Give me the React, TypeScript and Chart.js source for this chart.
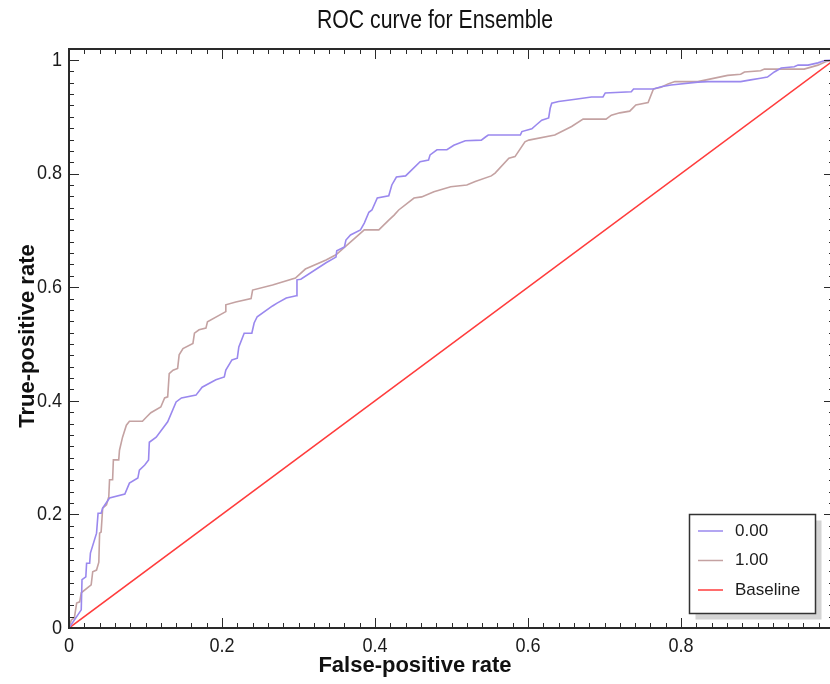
import { useEffect, useRef } from "react";
import { Chart, registerables } from "chart.js";

Chart.register(...registerables);

const chartTitle = "ROC curve for Ensemble";
const xAxisTitle = "False-positive rate";
const yAxisTitle = "True-positive rate";
const seriesLabels = ["0.00", "1.00", "Baseline"];
const seriesColors = ["#9a88ee", "#c4a2a2", "#ff3c3c"];

const xTickValues = [0, 0.2, 0.4, 0.6, 0.8];
const xTickLabels = ["0", "0.2", "0.4", "0.6", "0.8"];
const yTickValues = [0, 0.2, 0.4, 0.6, 0.8, 1];
const yTickLabels = ["0", "0.2", "0.4", "0.6", "0.8", "1"];

const fpr0 = [
  0, 0.016, 0.017, 0.022, 0.023, 0.027, 0.028, 0.036, 0.038, 0.042, 0.044, 0.053, 0.073, 0.079, 0.09,
  0.092, 0.099, 0.104, 0.105, 0.114, 0.129, 0.14, 0.147, 0.166, 0.174, 0.192, 0.203, 0.205, 0.213, 0.22,
  0.222, 0.229, 0.239, 0.242, 0.246, 0.266, 0.272, 0.284, 0.297, 0.298, 0.303, 0.336, 0.349, 0.35, 0.36,
  0.362, 0.368, 0.381, 0.386, 0.392, 0.396, 0.403, 0.418, 0.422, 0.428, 0.44, 0.459, 0.47, 0.472, 0.481,
  0.494, 0.503, 0.518, 0.539, 0.544, 0.548, 0.59, 0.592, 0.605, 0.611, 0.618, 0.627, 0.629, 0.631, 0.64,
  0.662, 0.683, 0.698, 0.701, 0.735, 0.738, 0.764, 0.774, 0.787, 0.822, 0.835, 0.878, 0.891, 0.904, 0.913,
  0.922, 0.931, 0.948, 0.953, 0.966, 0.979, 0.988, 1,
];
const tpr0 = [
  0, 0.032, 0.085, 0.09, 0.114, 0.114, 0.132, 0.167, 0.202, 0.202, 0.211, 0.229, 0.236, 0.255, 0.264,
  0.278, 0.287, 0.296, 0.327, 0.336, 0.363, 0.398, 0.405, 0.41, 0.424, 0.437, 0.442, 0.454, 0.472, 0.475,
  0.495, 0.519, 0.519, 0.537, 0.548, 0.567, 0.572, 0.581, 0.585, 0.613, 0.614, 0.643, 0.653, 0.664, 0.671,
  0.683, 0.692, 0.701, 0.713, 0.732, 0.736, 0.757, 0.761, 0.78, 0.794, 0.796, 0.821, 0.824, 0.833, 0.842,
  0.842, 0.85, 0.858, 0.859, 0.864, 0.868, 0.868, 0.874, 0.879, 0.886, 0.894, 0.898, 0.915, 0.924, 0.927,
  0.931, 0.935, 0.935, 0.942, 0.944, 0.949, 0.949, 0.953, 0.956, 0.961, 0.962, 0.962, 0.965, 0.968, 0.97,
  0.979, 0.986, 0.988, 0.991, 0.991, 0.995, 0.999, 1,
];

const fpr1 = [
  0, 0.003, 0.007, 0.01, 0.014, 0.016, 0.029, 0.031, 0.036, 0.039, 0.04, 0.042, 0.044, 0.049, 0.052,
  0.053, 0.057, 0.058, 0.065, 0.066, 0.07, 0.075, 0.079, 0.096, 0.101, 0.107, 0.12, 0.125, 0.129, 0.131,
  0.136, 0.142, 0.144, 0.149, 0.162, 0.164, 0.17, 0.179, 0.181, 0.205, 0.205, 0.218, 0.238, 0.24, 0.266,
  0.296, 0.309, 0.336, 0.349, 0.386, 0.405, 0.418, 0.425, 0.431, 0.451, 0.461, 0.477, 0.499, 0.52, 0.531,
  0.552, 0.557, 0.575, 0.583, 0.596, 0.601, 0.635, 0.657, 0.672, 0.702, 0.709, 0.72, 0.733, 0.741, 0.757,
  0.764, 0.774, 0.783, 0.792, 0.822, 0.861, 0.878, 0.883, 0.904, 0.909, 0.961, 0.979, 0.989, 1,
];
const tpr1 = [
  0, 0.014, 0.018, 0.044, 0.046, 0.062, 0.076, 0.099, 0.102, 0.116, 0.167, 0.169, 0.211, 0.217, 0.231,
  0.261, 0.261, 0.296, 0.296, 0.313, 0.336, 0.357, 0.364, 0.364, 0.371, 0.379, 0.389, 0.405, 0.407, 0.448,
  0.454, 0.457, 0.481, 0.492, 0.501, 0.519, 0.525, 0.528, 0.539, 0.557, 0.569, 0.574, 0.58, 0.595, 0.604,
  0.616, 0.632, 0.648, 0.657, 0.701, 0.701, 0.718, 0.727, 0.736, 0.757, 0.759, 0.768, 0.777, 0.78, 0.786,
  0.796, 0.801, 0.827, 0.83, 0.856, 0.859, 0.868, 0.883, 0.896, 0.896, 0.903, 0.907, 0.91, 0.921, 0.925,
  0.949, 0.952, 0.958, 0.962, 0.962, 0.973, 0.975, 0.979, 0.981, 0.984, 0.984, 0.991, 0.997, 1,
];

const baselineX = [0, 1];
const baselineY = [0, 1];

const FONT = '"Liberation Sans", Arial, sans-serif';

const toPoints = (xs: number[], ys: number[]) => xs.map((x, i) => ({ x, y: ys[i] }));

function narrowText(ctx: CanvasRenderingContext2D, text: string, x: number, y: number, sx: number) {
  ctx.save();
  ctx.translate(x, y);
  ctx.scale(sx, 1);
  ctx.fillText(text, 0, 0);
  ctx.restore();
}

const decorPlugin = {
  id: "rocDecor",
  afterDatasetsDraw(chart: any) {
    const { ctx, chartArea: a, scales } = chart;
    const x = scales.x;
    const y = scales.y;
    ctx.save();
    ctx.strokeStyle = "#2a2a2a";
    ctx.lineWidth = 1;
    ctx.beginPath();
    for (let i = 0; i <= 50; i++) {
      const v = i * 0.02;
      const len = i % 10 === 0 ? 10 : 5;
      const px = Math.round(x.getPixelForValue(v)) + 0.5;
      ctx.moveTo(px, a.bottom);
      ctx.lineTo(px, a.bottom - len);
      ctx.moveTo(px, a.top);
      ctx.lineTo(px, a.top + len);
      if (v <= y.max) {
        const py = Math.round(y.getPixelForValue(v)) + 0.5;
        ctx.moveTo(a.left, py);
        ctx.lineTo(a.left + len, py);
        ctx.moveTo(a.right, py);
        ctx.lineTo(a.right - len, py);
      }
    }
    ctx.stroke();
    ctx.lineWidth = 2;
    ctx.strokeRect(a.left, a.top, a.right - a.left, a.bottom - a.top);

    // tick labels
    ctx.fillStyle = "#1a1a1a";
    ctx.font = `21px ${FONT}`;
    ctx.textBaseline = "middle";
    ctx.textAlign = "center";
    xTickValues.forEach((v, i) => {
      narrowText(ctx, xTickLabels[i], x.getPixelForValue(v), a.bottom + 18, 0.86);
    });
    ctx.textAlign = "right";
    yTickValues.forEach((v, i) => {
      narrowText(ctx, yTickLabels[i], a.left - 7, y.getPixelForValue(v), 0.86);
    });

    // titles
    ctx.fillStyle = "#111";
    ctx.textAlign = "center";
    ctx.font = `25px ${FONT}`;
    narrowText(ctx, chartTitle, 435, 21, 0.85);
    ctx.font = `bold 22px ${FONT}`;
    ctx.fillText(xAxisTitle, 415, 666);
    ctx.save();
    ctx.translate(28, 336);
    ctx.rotate(-Math.PI / 2);
    ctx.fillText(yAxisTitle, 0, 0);
    ctx.restore();

    // legend
    const bx = 689.5, by = 514.5, bw = 126, bh = 99;
    ctx.fillStyle = "#d4d4d4";
    ctx.fillRect(bx + 6, by + 6, bw, bh);
    ctx.fillStyle = "#fff";
    ctx.fillRect(bx, by, bw, bh);
    ctx.strokeStyle = "#333";
    ctx.lineWidth = 1.5;
    ctx.strokeRect(bx, by, bw, bh);
    ctx.font = `17px ${FONT}`;
    ctx.textAlign = "left";
    chart.data.datasets.forEach((ds: any, i: number) => {
      const ly = 531 + i * 29.5;
      ctx.strokeStyle = ds.borderColor;
      ctx.lineWidth = 1.5;
      ctx.beginPath();
      ctx.moveTo(698, ly);
      ctx.lineTo(723, ly);
      ctx.stroke();
      ctx.fillStyle = "#1c1c1c";
      ctx.fillText(ds.label, 735, ly);
    });
    ctx.restore();
  },
};

export default function App() {
  const ref = useRef<HTMLCanvasElement | null>(null);
  useEffect(() => {
    if (!ref.current) return;
    const chart = new Chart(ref.current, {
      type: "line",
      data: {
        datasets: [
          { label: seriesLabels[0], data: toPoints(fpr0, tpr0), borderColor: seriesColors[0], borderWidth: 1.6 },
          { label: seriesLabels[1], data: toPoints(fpr1, tpr1), borderColor: seriesColors[1], borderWidth: 1.6 },
          { label: seriesLabels[2], data: toPoints(baselineX, baselineY), borderColor: seriesColors[2], borderWidth: 1.6 },
        ],
      },
      options: {
        animation: false,
        responsive: false,
        devicePixelRatio: 1,
        elements: { point: { radius: 0, hoverRadius: 0 }, line: { tension: 0, fill: false } },
        layout: { padding: { left: 0, right: 6, top: 49, bottom: 0 } },
        plugins: { legend: { display: false }, title: { display: false }, tooltip: { enabled: false } },
        events: [],
        scales: {
          x: {
            type: "linear",
            min: 0,
            max: 1,
            ticks: { display: false },
            grid: { display: false },
            border: { display: false },
            afterFit: (s: any) => { s.height = 56; },
          },
          y: {
            type: "linear",
            min: 0,
            max: 1.0194,
            ticks: { display: false },
            grid: { display: false },
            border: { display: false },
            afterFit: (s: any) => { s.width = 69; },
          },
        },
      },
      plugins: [decorPlugin],
    } as any);
    return () => chart.destroy();
  }, []);
  return (
    <div style={{ position: "fixed", left: 0, top: 0, width: 830, height: 684, overflow: "hidden", background: "#fff" }}>
      <canvas ref={ref} width={840} height={684} style={{ display: "block", width: 840, height: 684 }} />
    </div>
  );
}
